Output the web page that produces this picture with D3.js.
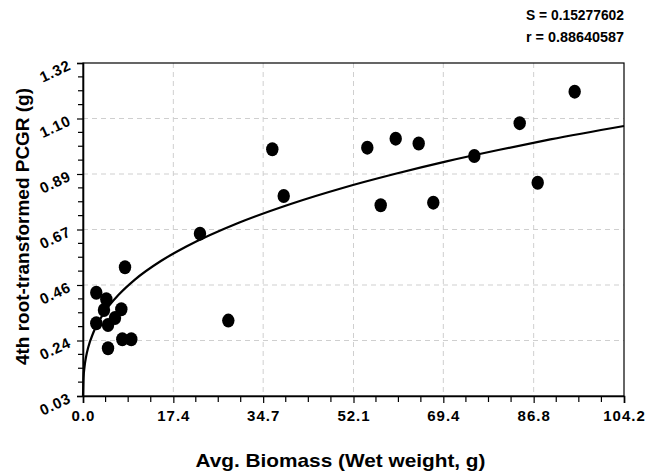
<!DOCTYPE html>
<html>
<head>
<meta charset="utf-8">
<script src="https://cdn.jsdelivr.net/npm/d3@7"></script>
<style>
  body { margin: 0; background: #fff; }
  svg text { font-family: "Liberation Sans", Arial, sans-serif; font-weight: bold; fill: #000; }
</style>
</head>
<body>
<div id="chart"></div>
<script>
// observed points (biomass g, 4th root PCGR)
var biomass = [2.56, 4.49, 4.04, 7.38, 6.16, 2.56, 4.82, 7.57, 9.30, 4.82, 8.09,
  27.99, 22.53, 36.46, 38.66, 54.76, 60.23, 64.66, 57.34, 67.47, 75.37, 84.11, 87.58, 94.70];
var pcgr = [0.430, 0.405, 0.363, 0.366, 0.332, 0.312, 0.305, 0.250, 0.250, 0.215, 0.529,
  0.322, 0.659, 0.986, 0.805, 0.992, 1.027, 1.008, 0.769, 0.779, 0.960, 1.087, 0.856, 1.209];

// fitted curve
var curveX = [0, 0.1, 0.3, 0.6, 1, 2, 4, 7, 10, 15, 20, 30, 40, 50, 60, 70, 80, 90, 104.2];
var curveY = [0.03, 0.099, 0.144, 0.183, 0.218, 0.276, 0.351, 0.425, 0.481, 0.553, 0.610,
  0.701, 0.774, 0.836, 0.890, 0.939, 0.983, 1.024, 1.076];

var xTicks = [0, 17.4, 34.7, 52.1, 69.4, 86.8, 104.2];
var xTickLabels = ['0.0', '17.4', '34.7', '52.1', '69.4', '86.8', '104.2'];
var yTicks = [0.03, 0.245, 0.46, 0.675, 0.89, 1.105, 1.32];
var yTickLabels = ['0.03', '0.24', '0.46', '0.67', '0.89', '1.10', '1.32'];

var stats = ['S = 0.15277602', 'r = 0.88640587'];

var margin = {top: 63, right: 21, bottom: 79, left: 83},
    width = 645 - margin.left - margin.right,
    height = 475 - margin.top - margin.bottom;

var svg = d3.select('#chart')
  .append('svg')
  .attr('width', 645)
  .attr('height', 475)
  .append('g')
  .attr('transform', 'translate(' + margin.left + ',' + margin.top + ')');

var x = d3.scaleLinear().domain([0, 104.2]).range([0, width]);
var y = d3.scaleLinear().domain([0.03, 1.32]).range([height, 0]);

// minor ticks: 4 subdivisions between majors
var xMinor = [], yMinor = [];
for (var i = 0; i < xTicks.length - 1; i++) {
  for (var k = 1; k < 4; k++) {
    xMinor.push(xTicks[i] + (xTicks[i + 1] - xTicks[i]) * k / 4);
    yMinor.push(yTicks[i] + (yTicks[i + 1] - yTicks[i]) * k / 4);
  }
}

// grid
svg.append('g').selectAll('line')
  .data(xTicks.slice(1, -1))
  .enter().append('line')
  .attr('x1', function(d) { return x(d); })
  .attr('x2', function(d) { return x(d); })
  .attr('y1', 0).attr('y2', height)
  .attr('stroke', '#cfcfcf').attr('stroke-dasharray', '5,4');

svg.append('g').selectAll('line')
  .data(yTicks.slice(1, -1))
  .enter().append('line')
  .attr('y1', function(d) { return y(d); })
  .attr('y2', function(d) { return y(d); })
  .attr('x1', 0).attr('x2', width)
  .attr('stroke', '#cfcfcf').attr('stroke-dasharray', '5,4');

// frame
svg.append('rect')
  .attr('width', width).attr('height', height)
  .attr('fill', 'none').attr('stroke', '#000').attr('stroke-width', 1.2);

// x axis
var xAxis = svg.append('g')
  .attr('transform', 'translate(0,' + height + ')')
  .call(d3.axisBottom(x).tickValues(xTicks).tickSize(7).tickFormat(function(d, i) { return xTickLabels[i]; }));
xAxis.select('.domain').attr('stroke-width', 1.6);
xAxis.selectAll('.tick line').attr('stroke-width', 1.2);
xAxis.selectAll('text').attr('font-size', '15px').attr('letter-spacing', '1px').attr('dy', '1.0em');
svg.append('g').selectAll('line')
  .data(xMinor).enter().append('line')
  .attr('x1', function(d) { return x(d); })
  .attr('x2', function(d) { return x(d); })
  .attr('y1', height).attr('y2', height + 6)
  .attr('stroke', '#000').attr('stroke-width', 1.2);

// y axis
var yAxis = svg.append('g')
  .call(d3.axisLeft(y).tickValues(yTicks).tickSize(6).tickFormat(''));
yAxis.select('.domain').attr('stroke-width', 1.6);
yAxis.selectAll('.tick line').attr('stroke-width', 1.2);
svg.append('g').selectAll('line')
  .data(yMinor).enter().append('line')
  .attr('y1', function(d) { return y(d); })
  .attr('y2', function(d) { return y(d); })
  .attr('x1', -5).attr('x2', 0)
  .attr('stroke', '#000').attr('stroke-width', 1.2);

svg.append('g').selectAll('text')
  .data(yTicks).enter().append('text')
  .attr('transform', function(d) { return 'translate(-11,' + (y(d) + 6) + ') rotate(-25)'; })
  .attr('text-anchor', 'end')
  .attr('font-size', '15px')
  .attr('letter-spacing', '0.8px')
  .text(function(d, i) { return yTickLabels[i]; });

// axis titles
svg.append('text')
  .attr('x', width / 2 - 13)
  .attr('y', height + 71)
  .attr('text-anchor', 'middle')
  .attr('font-size', '19px')
  .attr('textLength', 290)
  .attr('lengthAdjust', 'spacingAndGlyphs')
  .text('Avg. Biomass (Wet weight, g)');

svg.append('text')
  .attr('transform', 'rotate(-90)')
  .attr('x', -(height / 2) + 3)
  .attr('y', -margin.left + 29)
  .attr('text-anchor', 'middle')
  .attr('font-size', '19px')
  .attr('textLength', 277)
  .attr('lengthAdjust', 'spacingAndGlyphs')
  .text('4th root-transformed PCGR (g)');

// stats
svg.append('g').selectAll('text')
  .data(stats).enter().append('text')
  .attr('x', width)
  .attr('y', function(d, i) { return -43 + i * 22; })
  .attr('text-anchor', 'end')
  .attr('font-size', '14px')
  .attr('textLength', 98)
  .attr('lengthAdjust', 'spacingAndGlyphs')
  .text(function(d) { return d; });

// fitted curve
var line = d3.line()
  .x(function(d) { return x(d[0]); })
  .y(function(d) { return y(d[1]); })
  .curve(d3.curveMonotoneX);
svg.append('path')
  .attr('d', line(curveX.map(function(v, i) { return [v, curveY[i]]; })))
  .attr('fill', 'none')
  .attr('stroke', '#000')
  .attr('stroke-width', 2.2);

// points
svg.append('g').selectAll('ellipse')
  .data(biomass.map(function(v, i) { return [v, pcgr[i]]; }))
  .enter().append('ellipse')
  .attr('cx', function(d) { return x(d[0]); })
  .attr('cy', function(d) { return y(d[1]); })
  .attr('rx', 6.2)
  .attr('ry', 7)
  .attr('fill', '#000');
</script>
</body>
</html>
